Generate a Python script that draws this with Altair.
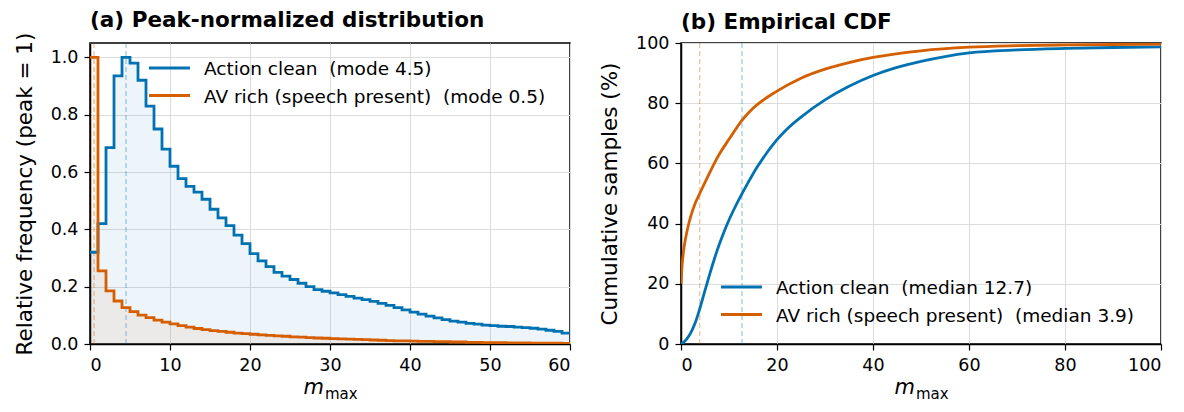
import altair as alt
import pandas as pd

# ---------------- data ----------------
bin_left = list(range(60))  # histogram bins of width 1 on m_max

action_hist = [0.32, 0.42, 0.685, 0.935, 1.0, 0.98, 0.92, 0.83, 0.75, 0.68,
               0.62, 0.577, 0.55, 0.53, 0.505, 0.47, 0.44, 0.413, 0.38, 0.35,
               0.315, 0.29, 0.27, 0.25, 0.237, 0.225, 0.212, 0.2, 0.19, 0.184,
               0.178, 0.172, 0.166, 0.16, 0.155, 0.149, 0.142, 0.135, 0.127, 0.119,
               0.111, 0.104, 0.097, 0.091, 0.085, 0.08, 0.076, 0.072, 0.069, 0.066,
               0.064, 0.062, 0.061, 0.059, 0.057, 0.055, 0.052, 0.048, 0.044, 0.038]

av_hist = [1.0, 0.255, 0.185, 0.15, 0.127, 0.113, 0.101, 0.092, 0.083, 0.076,
           0.07, 0.064, 0.059, 0.054, 0.05, 0.047, 0.044, 0.041, 0.038, 0.036,
           0.034, 0.032, 0.03, 0.028, 0.027, 0.025, 0.024, 0.022, 0.021, 0.02,
           0.019, 0.018, 0.017, 0.016, 0.015, 0.014, 0.013, 0.012, 0.011, 0.011,
           0.01, 0.009, 0.009, 0.008, 0.008, 0.007, 0.007, 0.006, 0.006, 0.005,
           0.005, 0.005, 0.004, 0.004, 0.004, 0.003, 0.003, 0.003, 0.003, 0.002]

cdf_action_x = [0, 1, 2, 3, 4, 5, 6, 7, 8, 9, 10, 11, 12, 13, 14, 15, 16, 17, 18, 19,
                20, 22, 25, 30, 35, 40, 45, 50, 55, 60, 70, 80, 90, 100]
cdf_action_y = [0, 1.3, 3.6, 7.2, 12.2, 17.8, 23.3, 28.5, 33.2, 37.4, 41.2, 44.6, 47.8,
                50.8, 53.7, 56.5, 59.1, 61.5, 63.8, 65.9, 67.9, 71.3, 75.4, 81.1, 85.6,
                89.2, 91.9, 93.9, 95.5, 96.7, 97.7, 98.2, 98.5, 98.7]

cdf_av_x = [0, 0.2, 0.5, 1, 1.5, 2, 3, 3.9, 5, 6, 7, 8, 10, 12.7, 15, 20, 25, 30, 35,
            40, 50, 60, 70, 80, 90, 100]
cdf_av_y = [20, 25.5, 30.5, 35.5, 39.2, 42.2, 46.9, 50, 53.7, 57, 60.2, 63.1, 68,
            74.3, 78.3, 84, 88.3, 91.3, 93.5, 95.2, 97.4, 98.6, 99.1, 99.35, 99.5, 99.6]

series = ["Action clean", "AV rich (speech present)"]
colors = ["#0072B2", "#D55E00"]
modes = [4.5, 0.5]
medians = [12.7, 3.9]

titles = ["(a) Peak-normalized distribution", "(b) Empirical CDF"]
y_titles = ["Relative frequency (peak = 1)", "Cumulative samples (%)"]
x_main, x_sub = "m", "max"

FONT = "DejaVu Sans"
W, H = 480, 301
LEG_FS = 18.5


def one_row():
    return pd.DataFrame({"k": [0]})


def xlabel_layers():
    m = alt.Chart(one_row()).mark_text(
        text=x_main, font=FONT, fontSize=21, fontStyle="italic", align="right",
        baseline="alphabetic", color="black"
    ).encode(x=alt.value(W / 2 - 6), y=alt.value(H + 50))
    s = alt.Chart(one_row()).mark_text(
        text=x_sub, font=FONT, fontSize=15, align="left",
        baseline="alphabetic", color="black"
    ).encode(x=alt.value(W / 2 - 5), y=alt.value(H + 55))
    return [m, s]


def legend_layers(labels, x0, y0, dy):
    out = []
    for i, (lab, col) in enumerate(zip(labels, colors)):
        out.append(alt.Chart(one_row()).mark_rule(color=col, strokeWidth=3).encode(
            x=alt.value(x0), x2=alt.value(x0 + 41), y=alt.value(y0 + i * dy)))
        out.append(alt.Chart(one_row()).mark_text(
            text=lab, font=FONT, fontSize=LEG_FS, align="left", baseline="middle",
            color="black").encode(x=alt.value(x0 + 55), y=alt.value(y0 + i * dy + 1)))
    return out


def title(t):
    return alt.TitleParams(t, anchor="start", frame="group", fontSize=21.5,
                           fontWeight="bold", font=FONT, offset=1, color="black")


# ---------------- panel (a) ----------------
xa = alt.X("x:Q", scale=alt.Scale(domain=[0, 60], nice=False),
           axis=alt.Axis(values=list(range(0, 61, 10)), title=None))
ya = alt.Y("y:Q", scale=alt.Scale(domain=[0, 1.05], nice=False),
           axis=alt.Axis(values=[0, 0.2, 0.4, 0.6, 0.8, 1.0], format=".1f",
                         title=y_titles[0]))

hists = [action_hist, av_hist]
areas, lines, rules_a = [], [], []
for vals, col, md in zip(hists, colors, modes):
    df = pd.DataFrame({"x": bin_left + [60], "y": vals + [vals[-1]]})
    areas.append(alt.Chart(df).mark_area(interpolate="step-after", color=col,
                                         opacity=0.07, clip=True).encode(x=xa, y=ya))
    lines.append(alt.Chart(df).mark_line(interpolate="step-after", color=col,
                                         strokeWidth=2.8, clip=True).encode(x=xa, y=ya))
    rules_a.append(alt.Chart(pd.DataFrame({"x": [md]})).mark_rule(
        color=col, strokeDash=[5, 3], strokeWidth=1.2, opacity=0.4).encode(x=xa))

labels_a = [f"{s}\u00a0 (mode {m})" for s, m in zip(series, modes)]
panel_a = alt.layer(
    *areas, *rules_a, *lines, *legend_layers(labels_a, 59, 25, 27.6), *xlabel_layers()
).properties(width=W, height=H, title=title(titles[0]))

# ---------------- panel (b) ----------------
xb = alt.X("x:Q", scale=alt.Scale(domain=[0, 100], nice=False),
           axis=alt.Axis(values=list(range(0, 101, 20)), title=None))
yb = alt.Y("y:Q", scale=alt.Scale(domain=[0, 100], nice=False),
           axis=alt.Axis(values=list(range(0, 101, 20)), title=y_titles[1]))

cdfs = [(cdf_action_x, cdf_action_y), (cdf_av_x, cdf_av_y)]
lines_b, rules_b = [], []
for (cx, cy), col, md in zip(cdfs, colors, medians):
    df = pd.DataFrame({"x": cx, "y": cy})
    lines_b.append(alt.Chart(df).mark_line(interpolate="monotone", color=col,
                                           strokeWidth=2.8, clip=True).encode(x=xb, y=yb))
    rules_b.append(alt.Chart(pd.DataFrame({"x": [md]})).mark_rule(
        color=col, strokeDash=[5, 3], strokeWidth=1.2, opacity=0.4).encode(x=xb))

labels_b = [f"{s}\u00a0 (median {m})" for s, m in zip(series, medians)]
panel_b = alt.layer(
    *rules_b, *lines_b, *legend_layers(labels_b, 40, 244, 27.6), *xlabel_layers()
).properties(width=W, height=H, title=title(titles[1]))

chart = alt.hconcat(panel_a, panel_b, spacing=26).configure_view(
    stroke="black", strokeWidth=1.5
).configure_axis(
    labelFont=FONT, titleFont=FONT, labelFontSize=17.5, titleFontSize=21.5,
    titleFontWeight="normal", labelColor="black", titleColor="black",
    domainColor="black", domainWidth=1.5, tickColor="black", tickSize=6,
    tickWidth=1.2, gridColor="#dddddd", gridWidth=1, labelPadding=6,
    titlePadding=14,
).properties(
    background="white",
    padding={"left": 5, "top": 0, "right": 0, "bottom": 5},
)

chart.save("out.html", embed_options={"renderer": "svg", "actions": False})
